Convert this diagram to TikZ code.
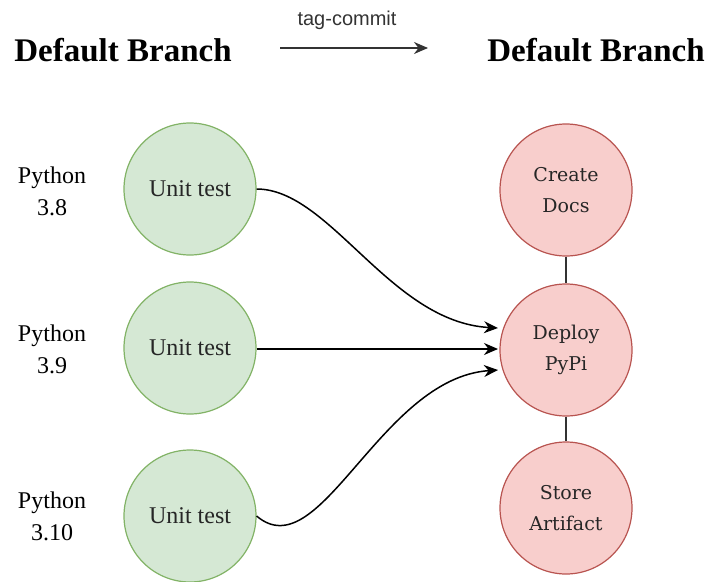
\documentclass[tikz,border=0pt]{standalone}
\usepackage{fontspec}
\setmainfont{Liberation Serif}
\newfontfamily\labelsans{Liberation Sans}
\newfontfamily\boxserif{DejaVu Serif}
\usetikzlibrary{arrows.meta}
\definecolor{greenfill}{HTML}{D5E8D4}
\definecolor{greenline}{HTML}{82B366}
\definecolor{redfill}{HTML}{F8CECC}
\definecolor{redline}{HTML}{B85450}
\definecolor{inkgray}{HTML}{333333}
\tikzset{
  testnode/.style={circle, draw=greenline, fill=greenfill, line width=1.2pt,
    minimum size=132pt, inner sep=0pt, text=black!85, font=\fontsize{24}{30}\selectfont},
  jobnode/.style={circle, draw=redline, fill=redfill, line width=1.2pt,
    minimum size=132pt, inner sep=0pt, align=center, text=black!85,
    font=\boxserif\fontsize{19}{31}\selectfont},
  pylabel/.style={align=center, font=\fontsize{24}{32}\selectfont},
  heading/.style={anchor=base, font=\bfseries\fontsize{33}{38}\selectfont},
  flow/.style={line width=1.5pt, -{Stealth[length=14pt, width=12pt]}},
  link/.style={line width=1.5pt, draw=inkgray}
}
\begin{document}
\begin{tikzpicture}[x=1pt, y=-1pt]
\useasboundingbox (0,0) rectangle (708,581);

% headings and the tag-commit arrow
\node[heading] (h1) at (123,61) {Default Branch};
\node[heading] (h2) at (596,61) {Default Branch};
\coordinate (t1) at (280,48);
\coordinate (t2) at (428,48);
\draw[line width=1.8pt, draw=inkgray, -{Stealth[length=14pt, width=12pt]}] (t1) -- (t2);
\node[font=\labelsans\fontsize{20}{22}\selectfont, text=inkgray] (tc) at (347,20) {tag-commit};

% Python versions
\node[pylabel] (p1) at (52,191) {Python\\3.8};
\node[pylabel] (p2) at (52,349) {Python\\3.9};
\node[pylabel] (p3) at (52,516) {Python\\3.10};

% unit test jobs
\node[testnode] (g1) at (190,189) {Unit test};
\node[testnode] (g2) at (190,348) {Unit test};
\node[testnode] (g3) at (190,516) {Unit test};

% release jobs
\node[jobnode] (r1) at (566,190) {Create\\Docs};
\node[jobnode] (r2) at (566,350) {Deploy\\PyPi};
\node[jobnode] (r3) at (566,508) {Store\\Artifact};

\draw[link] (r1) -- (r2);
\draw[link] (r2) -- (r3);

% connectors into the deploy job
\coordinate (e1) at (498,328);
\coordinate (e2) at (498,349);
\coordinate (e3) at (498,370);
\draw[flow] (g1.east) .. controls (330,189) and (390,322) .. (e1);
\draw[flow] (g2.east |- e2) -- (e2);
\draw[flow] (g3.east) .. controls (320,570) and (380,378) .. (e3);
\end{tikzpicture}
\end{document}
